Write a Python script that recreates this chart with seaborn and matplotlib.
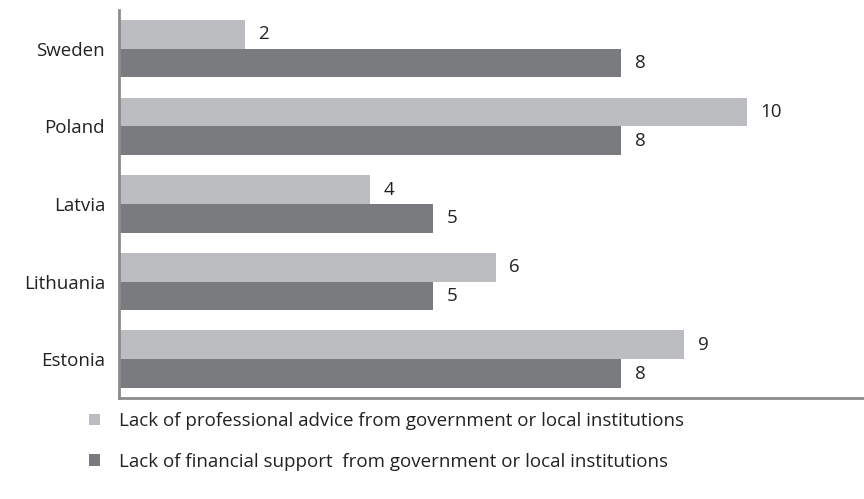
import pandas as pd
import matplotlib.pyplot as plt
import seaborn as sns

countries = ['Sweden', 'Poland', 'Latvia', 'Lithuania', 'Estonia']
advice = [2, 10, 4, 6, 9]
financial = [8, 8, 5, 5, 8]
series_names = ['Lack of professional advice from government or local institutions',
                'Lack of financial support  from government or local institutions']

df = pd.DataFrame({
    'Country': countries * 2,
    'Value': advice + financial,
    'Series': [series_names[0]] * len(countries) + [series_names[1]] * len(countries),
})

sns.set_style("white")
plt.rcParams['font.family'] = ['Open Sans', 'DejaVu Sans']

fig = plt.figure(figsize=(8.64, 4.99), dpi=100)
ax = fig.add_axes([0.1377, 0.2024, 0.8623, 0.7776])

sns.barplot(data=df, y='Country', x='Value', hue='Series', orient='h',
            palette=['#bcbdc0', '#7a7b7e'], width=0.74, ax=ax, saturation=1,
            linewidth=0)

for container in ax.containers:
    ax.bar_label(container, padding=10, fontsize=13.5, color='#222222')

ax.set_xlim(0, 11.87)
ax.set_ylim(4.5, -0.5)
ax.set_xlabel('')
ax.set_ylabel('')
ax.set_xticks([])
ax.tick_params(axis='y', length=0, pad=10, labelsize=13.5, labelcolor='#222222')
sns.despine(ax=ax, top=True, right=True)
for side in ['left', 'bottom']:
    ax.spines[side].set_color('#8c8c8c')
    ax.spines[side].set_linewidth(2)

handles, labels = ax.get_legend_handles_labels()
ax.get_legend().remove()
fig.legend(handles, labels, loc='upper left', bbox_to_anchor=(0.084, 0.208),
           frameon=False, fontsize=13.5, handlelength=0.55, handleheight=0.55,
           handletextpad=1.0, labelspacing=1.2, labelcolor='#222222')

fig.savefig('out.png', dpi=100)
